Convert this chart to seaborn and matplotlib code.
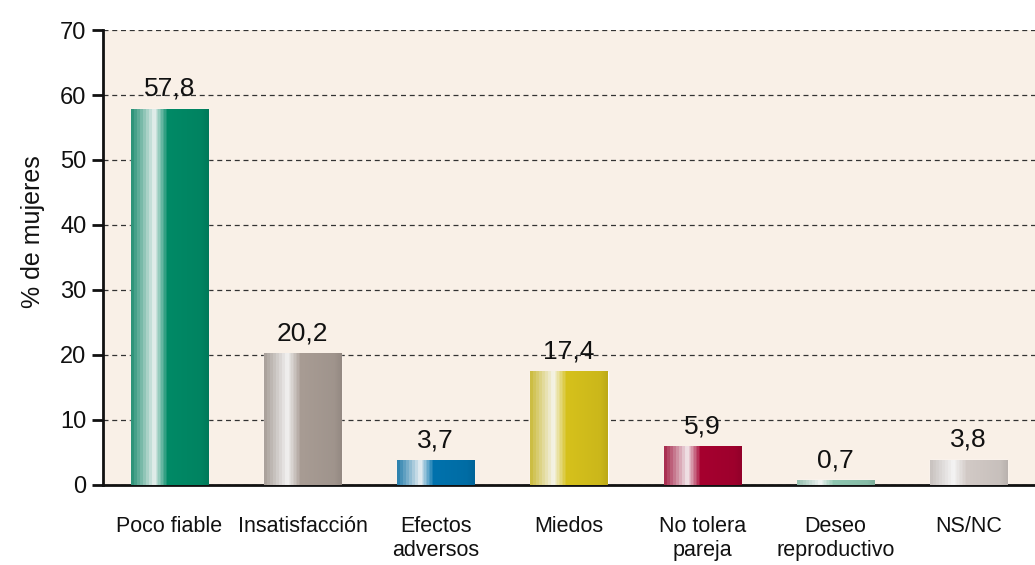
import numpy as np
import pandas as pd
import seaborn as sns
import matplotlib.pyplot as plt
from matplotlib.colors import to_rgb

categorias = ["Poco fiable", "Insatisfacción", "Efectos\nadversos", "Miedos",
              "No tolera\npareja", "Deseo\nreproductivo", "NS/NC"]
porcentajes = [57.8, 20.2, 3.7, 17.4, 5.9, 0.7, 3.8]
colores = ["#008a66", "#a89c94", "#0072ad", "#d6c11c", "#a6002f", "#8ec6b0", "#d2cac6"]
yticks = [0, 10, 20, 30, 40, 50, 60, 70]

sns.set_style("white")
plt.rcParams["font.family"] = ["Liberation Sans Narrow", "Liberation Sans", "DejaVu Sans"]
plt.rcParams["text.color"] = "#111111"

df = pd.DataFrame({"motivo": categorias, "pct": porcentajes})

fig = plt.figure(figsize=(10.35, 5.65), dpi=100)
ax = fig.add_axes([0.0995, 0.1416, 0.9005, 0.8053])
ax.set_facecolor("#f9f0e7")

sns.barplot(data=df, x="motivo", y="pct", hue="motivo", palette=colores,
            legend=False, width=0.58, saturation=1, ax=ax, zorder=2)


def perfil_cilindro(n=200):
    # brillo de la barra de izquierda a derecha (estilo cilindro, en bandas)
    t = np.linspace(0, 1, n)
    luz = np.interp(t, [0, 0.3, 0.47, 1], [0.15, 0.92, 0.0, 0.0])
    sombra = np.interp(t, [0, 0.47, 0.9, 1], [0.08, 0.0, 0.05, 0.12])
    luz = np.round(luz * 10) / 10
    return luz, sombra


luz, sombra = perfil_cilindro()
for patch, c in zip(ax.patches, colores):
    x0, w, h = patch.get_x(), patch.get_width(), patch.get_height()
    base = np.array(to_rgb(c))
    rgb = base[None, :] * (1 - luz[:, None]) + luz[:, None]
    rgb = rgb * (1 - sombra[:, None])
    img = rgb[None, :, :]
    ax.imshow(img, extent=[x0, x0 + w, 0, h], aspect="auto", zorder=3,
              interpolation="nearest")
    ax.annotate(f"{h:.1f}".replace(".", ","), (x0 + w / 2, h),
                xytext=(0, 6), textcoords="offset points",
                ha="center", va="bottom", fontsize=19, color="#111111", zorder=4)

ax.set_xlim(-0.5, len(categorias) - 0.5)
ax.set_ylim(0, 70)
ax.set_yticks(yticks)
ax.yaxis.grid(True, linestyle=(0, (4, 3)), color="#333333", linewidth=0.9, zorder=1)
ax.set_axisbelow(True)

ax.set_xticks(np.arange(len(categorias) + 1) - 0.5, minor=True)
ax.tick_params(axis="x", which="major", length=0, pad=22, labelsize=15.5,
               labelcolor="#111111")
ax.tick_params(axis="x", which="minor", length=7, width=2, direction="out", color="#111111")
ax.tick_params(axis="y", length=8, width=2, direction="out", color="#111111",
               labelsize=17, pad=4, left=True, labelcolor="#111111")

for s in ["top", "right"]:
    ax.spines[s].set_visible(False)
for s in ["left", "bottom"]:
    ax.spines[s].set_color("#111111")
    ax.spines[s].set_linewidth(2)

ax.set_xlabel("")
ax.set_ylabel("% de mujeres", fontsize=18, color="#111111")
ax.yaxis.set_label_coords(-0.062, 0.556)

fig.savefig("out.png", dpi=100, facecolor="white")
